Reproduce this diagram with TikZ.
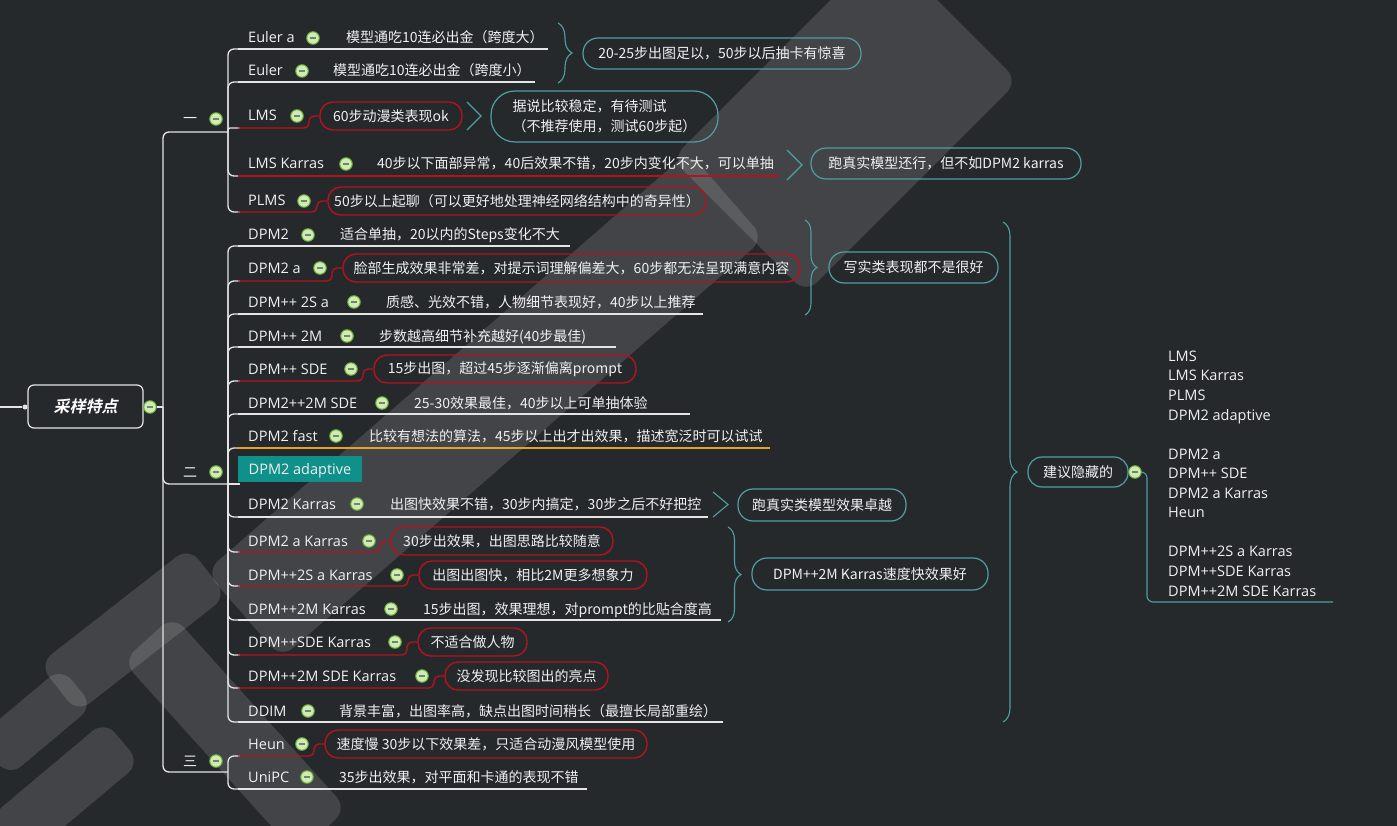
\documentclass[tikz,border=0pt]{standalone}
\usepackage{fontspec}
\setmainfont{Noto Sans CJK SC}
\newfontfamily\lat{Open Sans}
\newfontfamily\rootfont[FakeSlant=0.22]{Noto Sans CJK SC Bold}
\usetikzlibrary{decorations.pathreplacing}
\definecolor{bgc}{HTML}{26292C}
\definecolor{txt}{HTML}{F0F0F0}
\definecolor{wline}{HTML}{E4E4E4}
\definecolor{redc}{HTML}{B3131C}
\definecolor{tealc}{HTML}{4FA0A3}
\definecolor{orc}{HTML}{E2A424}
\definecolor{adapt}{HTML}{0F908B}
\definecolor{cfill}{HTML}{D2EAB5}
\definecolor{cdraw}{HTML}{69B13C}
\definecolor{cbar}{HTML}{6C8A5A}

\newcommand\WRow[9]{%
  \node[lbl] (l#1) at (248,#3+5) {#2};
  \node[mc] (c#1) at (#5,#3) {};
  \node[note] (n#1) at (#6,#3+5) {#7};
  \draw[#9, line width=1.3pt] (238,#4) -- (#8,#4);
}
\newcommand\RRow[9]{%
  \node[lbl] (l#1) at (248,#3+5) {#2};
  \node[mc] (c#1) at (#5,#3) {};
  \pgfmathsetmacro\bw{#7-#6}%
  \pgfmathsetmacro\bx{(#6+#7)/2}%
  \node[rbox, minimum width=\bw pt] (n#1) at (\bx,#3) {#8};
  \draw[rl] (238,#4) -- (#9,#4) -- (#9,#3) -- (n#1.west);
}
\newcommand\WM[5]{\fill[wm, rotate around={#5:(#1,#2)}] (#1-#3/2,#2-#4/2) rectangle (#1+#3/2,#2+#4/2);}

\begin{document}
\begin{tikzpicture}[x=1pt,y=-1pt,
  lbl/.style={anchor=base west, inner sep=0pt, text=txt, font=\lat\fontsize{14.5}{17}\selectfont},
  note/.style={anchor=base west, inner sep=0pt, text=txt, font=\fontsize{14}{17}\selectfont},
  rbox/.style={draw=redc, line width=1.4pt, rounded corners=13pt, minimum height=28pt, inner sep=0pt, text=txt, font=\fontsize{14}{17}\selectfont},
  tbox/.style={draw=tealc, line width=1.2pt, inner sep=0pt, text=txt, font=\fontsize{14}{17}\selectfont},
  mc/.style={circle, draw=cdraw, fill=cfill, line width=1pt, minimum size=12.5pt, inner sep=0pt,
    path picture={\draw[cbar, line width=1.8pt] ([xshift=2.8pt]path picture bounding box.west) -- ([xshift=-2.8pt]path picture bounding box.east);}},
  wl/.style={draw=wline, line width=1.3pt, rounded corners=6pt},
  rl/.style={draw=redc, line width=1.4pt, rounded corners=5pt},
  tl/.style={draw=tealc, line width=1.1pt},
  tbr/.style={draw=tealc, line width=1.1pt, decorate, decoration={brace, amplitude=#1}},
  wm/.style={fill=white, fill opacity=0.13, rounded corners=16pt}
]
\fill[bgc] (0,0) rectangle (1397,826);
\useasboundingbox (0,0) rectangle (1397,826);

% watermark (approximate)
\WM{485}{405}{640}{115}{41}
\WM{845}{120}{300}{190}{45}
\WM{133}{630}{190}{62}{38}
\WM{235}{735}{260}{68}{-48}
\WM{35}{722}{110}{50}{40}
\WM{65}{790}{150}{55}{40}

% root
\coordinate (stub) at (0,407);
\node[circle, fill=wline, minimum size=5pt, inner sep=0pt] (rdot) at (25,407) {};
\draw[wline, line width=1.2pt] (stub) -- (rdot);
\node[draw=wline, line width=1.2pt, rounded corners=6pt, minimum width=115pt, minimum height=43pt, fill=bgc, text=white, font=\rootfont\fontsize{16}{18}\selectfont] (root) at (85.5,406.5) {采样特点};
\node[mc] (c0) at (150,407) {};

% junctions
\coordinate (j0) at (163,407);
\coordinate (ja) at (228,132);
\coordinate (jb) at (228,484);
\coordinate (jc) at (228,772);
\draw[wl] (c0.east) -- (j0);
\draw[wl] (j0) -- (163,132) -- (ja);
\draw[wl] (j0) -- (163,484) -- (jb);
\draw[wl] (j0) -- (163,772) -- (jc);

% group labels
\node[note] (g1) at (183,124) {一};
\node[mc] (cg1) at (216,119) {};
\node[note] (g2) at (183,477) {二};
\node[mc] (cg2) at (216,472) {};
\node[note] (g3) at (183,766) {三};
\node[mc] (cg3) at (216,761) {};

% child corners
\foreach \y in {49,82,176,212} \draw[wl] (ja) -- (228,\y) -- (240,\y);
\draw[wline, line width=1.3pt, rounded corners=2pt] (ja) -- (228,128) -- (240,128);
\foreach \y in {246,281,314,347,381,414,448,517,552,586,620,655,688,722} \draw[wl] (jb) -- (228,\y) -- (240,\y);
\draw[wline, line width=1.3pt] (jb) -- (240,484);
\foreach \y in {756,789} \draw[wl] (jc) -- (228,\y) -- (240,\y);

% rows
\WRow{1}{Euler a}{38}{49}{313}{346}{模型通吃10连必出金（跨度大）}{548}{wline}
\WRow{2}{Euler}{71}{82}{302}{333}{模型通吃10连必出金（跨度小）}{535}{wline}
\RRow{3}{LMS}{116}{128}{297}{320}{462}{60步动漫类表现ok}{309}
\WRow{4}{LMS Karras}{164}{176}{346}{377}{40步以下面部异常，40后效果不错，20步内变化不大，可以单抽}{780}{redc}
\RRow{5}{PLMS}{201}{212}{304}{328}{706}{50步以上起聊（可以更好地处理神经网络结构中的奇异性）}{317}
\WRow{6}{DPM2}{235}{246}{308}{340}{适合单抽，20以内的Steps变化不大}{570}{wline}
\RRow{7}{DPM2 a}{268}{281}{320}{343}{800}{脸部生成效果非常差，对提示词理解偏差大，60步都无法呈现满意内容}{332}
\WRow{8}{DPM++ 2S a}{302}{314}{354}{386}{质感、光效不错，人物细节表现好，40步以上推荐}{703}{wline}
\WRow{9}{DPM++ 2M}{336}{347}{347}{379}{步数越高细节补充越好(40步最佳)}{616}{wline}
\RRow{10}{DPM++ SDE}{369}{381}{351}{374}{636}{15步出图，超过45步逐渐偏离prompt}{363}
\WRow{11}{DPM2++2M SDE}{403}{414}{382}{414}{25-30效果最佳，40步以上可单抽体验}{690}{wline}
\WRow{12}{DPM2 fast}{436}{448}{336}{369}{比较有想法的算法，45步以上出才出效果，描述宽泛时可以试试}{770}{orc}
\node[fill=adapt, minimum width=124pt, minimum height=26pt, inner sep=0pt, text height=10.5pt, text depth=0pt, text=txt, font=\lat\fontsize{14.5}{17}\selectfont] (l13) at (300,469) {DPM2 adaptive};
\WRow{14}{DPM2 Karras}{504}{517}{357}{390}{出图快效果不错，30步内搞定，30步之后不好把控}{708}{wline}
\RRow{15}{DPM2 a Karras}{541}{552}{369}{391}{613}{30步出效果，出图思路比较随意}{380}
\RRow{16}{DPM++2S a Karras}{575}{586}{397}{419}{647}{出图出图快，相比2M更多想象力}{408}
\WRow{17}{DPM++2M Karras}{609}{620}{391}{423}{15步出图，效果理想，对prompt的比贴合度高}{721}{wline}
\RRow{18}{DPM++SDE Karras}{642}{655}{395}{418}{527}{不适合做人物}{407}
\RRow{19}{DPM++2M SDE Karras}{676}{688}{422}{445}{608}{没发现比较图出的亮点}{434}
\WRow{20}{DDIM}{711}{722}{308}{339}{背景丰富，出图率高，缺点出图时间稍长（最擅长局部重绘）}{723}{wline}
\RRow{21}{Heun}{744}{756}{302}{325}{647}{速度慢 30步以下效果差，只适合动漫风模型使用}{314}
\WRow{22}{UniPC}{777}{789}{307}{339}{35步出效果，对平面和卡通的表现不错}{587}{wline}

% teal summaries
\draw[tbr=14pt] (558,23) -- (558,83);
\node[tbox, minimum width=278pt, minimum height=31pt, rounded corners=15pt] (t1) at (722,53.5) {20-25步出图足以，50步以后抽卡有惊喜};
\draw[tl] (467,102) -- (481,116) -- (467,130);
\node[tbox, minimum width=227pt, minimum height=51pt, rounded corners=24pt, align=left, font=\fontsize{14}{20}\selectfont] (t2) at (604.5,116.5) {据说比较稳定，有待测试\\（不推荐使用，测试60步起）};
\draw[tl] (787,150) -- (802,165) -- (787,180);
\node[tbox, minimum width=270pt, minimum height=31pt, rounded corners=15pt] (t3) at (946,163.5) {跑真实模型还行，但不如DPM2 karras};
\draw[tbr=12pt] (805,220) -- (805,315);
\node[tbox, minimum width=169pt, minimum height=31pt, rounded corners=15pt] (t4) at (913.5,267.5) {写实类表现都不是很好};
\draw[tl] (713,492) -- (728,504.5) -- (713,517);
\node[tbox, minimum width=168pt, minimum height=32pt, rounded corners=15pt] (t5) at (822,505) {跑真实类模型效果卓越};
\draw[tbr=13pt] (728,527) -- (728,622);
\node[tbox, minimum width=236pt, minimum height=32pt, rounded corners=15pt] (t6) at (870,574) {DPM++2M Karras速度快效果好};
\draw[tbr=14pt] (1003,222) -- (1003,722);
\node[tbox, minimum width=100pt, minimum height=30pt, rounded corners=14pt] (t7) at (1078,472) {建议隐藏的};
\node[mc] (c7) at (1135,472) {};
\coordinate (hend) at (1333,602);
\draw[tl, rounded corners=6pt] (c7.east) -- (1147,472) -- (1147,602) -- (hend);

\foreach \t/\y [count=\i] in {LMS/356, LMS Karras/375, PLMS/395, DPM2 adaptive/415, DPM2 a/454, DPM++ SDE/473, DPM2 a Karras/493, Heun/512, DPM++2S a Karras/551, DPM++SDE Karras/571, DPM++2M SDE Karras/591}
  \node[lbl] (h\i) at (1168,\y+5) {\t};
\end{tikzpicture}
\end{document}
